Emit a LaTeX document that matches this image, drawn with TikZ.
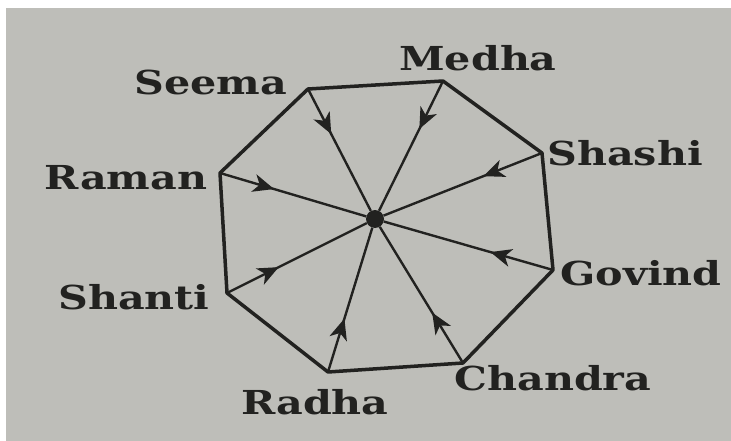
\documentclass[tikz,border=0pt]{standalone}
\usepackage{fontspec}
\usepackage{xcolor}
\usepackage{tikz}
\usetikzlibrary{positioning, arrows.meta, decorations.markings}
\newfontfamily\lblfont[FakeStretch=1.25]{DejaVu Serif}
\definecolor{paper}{RGB}{190,190,185}
\definecolor{ink}{RGB}{34,34,32}

\begin{document}
\begin{tikzpicture}[
    x=1pt, y=-1pt,
    octo/.style={draw=ink, line width=3.5pt, line join=round},
    spoke/.style={draw=ink, line width=2.4pt, postaction={decorate},
                  decoration={markings, mark=at position 0.37 with
                  {\arrow{Stealth[length=21pt, width=18pt, inset=6pt]}}}},
    dot/.style={circle, fill=ink, inner sep=0pt, minimum size=18pt},
    person/.style={font=\lblfont\bfseries\fontsize{33}{33}\selectfont, text=ink, inner sep=0pt}
]
\useasboundingbox (0,0) rectangle (731,441);
\fill[white] (0,0) rectangle (731,441);
\fill[paper] (6,8) rectangle (731,441);

% corners of the octagon
\coordinate (seema)   at (308,89);
\coordinate (medha)   at (443,81);
\coordinate (shashi)  at (542,153);
\coordinate (govind)  at (553,270);
\coordinate (chandra) at (463,363);
\coordinate (radha)   at (328,372);
\coordinate (shanti)  at (227,293);
\coordinate (raman)   at (220,173);
\node[dot] (ctr) at (375,219) {};

\node[person] (seemaL)   at (211,82)  {Seema};
\node[person] (medhaL)   at (478,58)  {Medha};
\node[person] (shashiL)  at (625,153) {Shashi};
\node[person] (govindL)  at (641,273) {Govind};
\node[person] (chandraL) at (553,378) {Chandra};
\node[person] (radhaL)   at (315,402) {Radha};
\node[person] (shantiL)  at (134,297) {Shanti};
\node[person] (ramanL)   at (126,178) {Raman};

\draw[octo] (seema) -- (medha) -- (shashi) -- (govind) -- (chandra)
    -- (radha) -- (shanti) -- (raman) -- cycle;

% everyone faces the centre
\draw[spoke] (seema)   -- (ctr);
\draw[spoke] (medha)   -- (ctr);
\draw[spoke] (shashi)  -- (ctr);
\draw[spoke] (govind)  -- (ctr);
\draw[spoke] (chandra) -- (ctr);
\draw[spoke] (radha)   -- (ctr);
\draw[spoke] (shanti)  -- (ctr);
\draw[spoke] (raman)   -- (ctr);
\end{tikzpicture}
\end{document}
